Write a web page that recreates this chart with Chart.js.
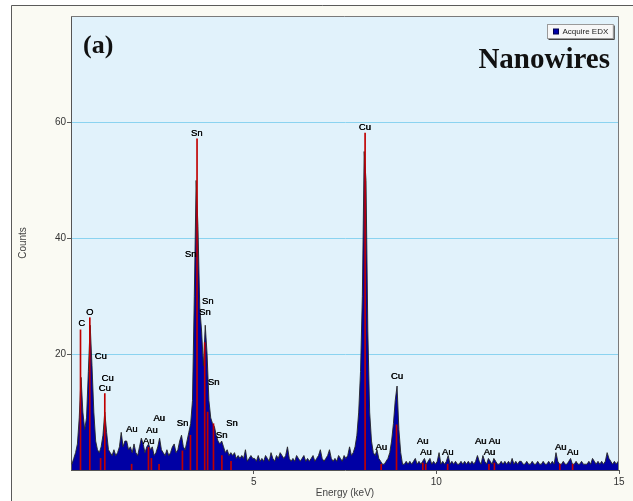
<!DOCTYPE html>
<html><head><meta charset="utf-8">
<script src="https://cdn.jsdelivr.net/npm/chart.js@4/dist/chart.umd.min.js"></script>
<style>html,body{margin:0;padding:0;background:#fff}canvas{display:block}</style>
</head><body>
<canvas id="c" width="633" height="501"></canvas>
<script>
// ---- data ----
const BIN_START = 0.025;   // keV, centre of first channel group
const BIN_WIDTH = 0.05;    // keV per channel group
const counts = [
  1, 2, 3, 4.5, 9, 16, 10, 7, 9, 17, 25, 18, 10, 5, 3.5, 3, 4, 6, 10, 6.5,
  3.5, 3, 2.5, 3.5, 2.5, 3, 4, 6.5, 4, 5,
  5, 3.5, 4, 3, 4.5, 3, 2.5, 4, 5.5, 4.5, 3, 4, 4.5, 3.5, 4, 2.5, 3, 4, 5.5, 3.5, 3, 2.5, 3.5, 2.5, 3, 4, 4.5, 3, 3.5, 5,
  6, 4, 3.5, 5, 6.5, 8, 12, 30, 50, 42, 28, 24, 18, 25, 20, 12, 9, 8, 7.5, 6, 5, 4.5, 5, 4, 3, 3.5, 2.5, 3, 2.5, 3, 2, 2.5, 2, 2.5, 2, 3.5, 1.5, 2, 2.5, 2,
  2, 1.5, 2.5, 1.5, 2, 1.5, 2.5, 2, 1.5, 3, 2, 1.5, 2.5, 2, 3, 2.5, 2, 2.5, 4, 2, 1.5, 2, 1.5, 2.5, 2, 1.5, 2, 2.5, 1.5, 2,
  1.5, 2, 2.5, 1.5, 2, 2.5, 3.5, 2, 1.5, 2, 2.5, 3.5, 2, 1.5, 2, 1.5, 2.5, 2, 1.5, 2.5, 2, 2.5,
  4, 2.5, 3, 4, 6, 10, 17, 30, 55, 50, 24, 10, 5, 3, 2.5, 3.5, 2, 1.5, 1, 1, 1.5, 2, 3, 5, 8, 12, 14.5, 7, 3, 1,
  1, 1.5, 1, 1.5, 1, 1.5, 2, 1, 1.5, 1,
  1.5, 2, 1, 1.5, 2, 1, 1.5, 1, 1.5, 3,
  1, 1.5, 1, 1.5, 2.5, 1, 1.5, 1, 1.5, 1,
  1, 1.5, 1, 1.5, 1, 1.5, 1, 1.5, 1, 1.5,
  2.5, 1.5, 1, 2.5, 1.5, 1, 2, 1.5, 1, 2,
  1.5, 1, 1, 1.5, 1, 1.5, 1, 1.5, 1, 2,
  1, 1.5, 1, 1.5, 1.5, 1, 1, 1.5, 1, 1,
  1.5, 1, 1, 1.5, 1, 1, 1.5, 1, 1, 1.5,
  1, 1.5, 1, 3, 1.5, 1, 1, 1.5, 1, 1,
  1.5, 2, 1, 1, 1.5, 1, 1, 1.5, 1, 1,
  1, 1.5, 1, 2, 1.5, 1, 1.5, 1, 1.5, 1,
  1.5, 3, 2, 1.5, 1, 1.5, 1, 1.5
];
const markerEnergy = [0.26, 0.515, 0.81, 0.925, 1.66, 2.12, 2.20, 2.41, 3.05, 3.27, 3.45, 3.66, 3.74, 3.90, 4.13, 4.38, 8.05, 8.49, 8.91, 9.63, 9.71, 10.31, 11.44, 11.59, 13.38, 13.73];
const markerHeight = [24.2, 26.3, 2, 13.2, 1, 3.9, 2, 1, 3.3, 6, 57.2, 22, 10, 8, 2.5, 1.5, 58.2, 1, 7.8, 1.2, 1, 1, 1, 1.2, 1, 1];
const labelText = ['C','O','Cu','Cu','Cu','Au','Au','Au','Au','Sn','Sn','Sn','Sn','Sn','Sn','Sn','Sn','Cu','Cu','Au','Au','Au','Au','Au','Au','Au','Au','Au'];
const labelEnergy = [0.29, 0.51, 0.81, 1.00, 0.92, 1.66, 2.41, 2.21, 2.12, 3.05, 3.44, 3.27, 3.74, 3.66, 3.90, 4.40, 4.12, 8.04, 8.92, 8.49, 9.62, 9.71, 10.31, 11.21, 11.59, 11.45, 13.40, 13.73];
const labelCount = [25.3, 27.2, 19.7, 15.9, 14.1, 7.0, 8.9, 6.8, 4.9, 8.0, 58.2, 37.2, 29.1, 27.2, 15.1, 8.0, 5.9, 59.2, 16.1, 3.9, 5.0, 3.0, 3.0, 5.0, 5.0, 3.0, 3.9, 3.0];
const xTickValues = [5, 10, 15];
const yTickValues = [20, 40, 60];
const seriesName = 'Acquire EDX';
const panelTag = '(a)';
const sampleName = 'Nanowires';
const xTitle = 'Energy (keV)';
const yTitle = 'Counts';

// ---- drawing ----
const SANS = '"Liberation Sans", Arial, sans-serif';
const SERIF = '"Liberation Serif", "Times New Roman", serif';

const decor = {
  id: 'decor',
  beforeDraw(chart) {
    const {ctx, chartArea: a, width, height} = chart;
    ctx.save();
    ctx.fillStyle = '#ffffff';
    ctx.fillRect(0, 0, width, height);
    ctx.fillStyle = '#fafaf3';
    ctx.fillRect(11, 5, width, height);
    ctx.strokeStyle = '#5a5a5a';
    ctx.lineWidth = 1;
    ctx.beginPath();
    ctx.moveTo(11.5, height + 2); ctx.lineTo(11.5, 5.5); ctx.lineTo(width + 2, 5.5);
    ctx.stroke();
    ctx.fillStyle = '#e1f2fb';
    ctx.fillRect(a.left, a.top, a.right - a.left, a.bottom - a.top);
    ctx.restore();
  },
  afterDatasetsDraw(chart) {
    const {ctx, scales: {x, y}} = chart;
    ctx.save();
    ctx.font = '9.5px ' + SANS;
    ctx.fillStyle = '#000';
    ctx.textAlign = 'center';
    ctx.textBaseline = 'middle';
    labelText.forEach((t, i) => {
      const px = x.getPixelForValue(labelEnergy[i]), py = y.getPixelForValue(labelCount[i]);
      ctx.fillText(t, px, py);
      ctx.fillText(t, px + 0.4, py);
    });
    ctx.restore();
  },
  afterDraw(chart) {
    const {ctx, chartArea: a} = chart;
    ctx.save();
    // top & right plot border
    ctx.strokeStyle = '#7a7a7a';
    ctx.lineWidth = 1;
    ctx.beginPath();
    ctx.moveTo(a.left, a.top + 0.5); ctx.lineTo(a.right - 0.5, a.top + 0.5); ctx.lineTo(a.right - 0.5, a.bottom);
    ctx.stroke();
    // legend
    ctx.font = '8px ' + SANS;
    const tw = ctx.measureText(seriesName).width;
    const bw = tw + 20, bh = 14;
    const bx = Math.round(a.right - 6 - bw) + 0.5, by = a.top + 8.5;
    ctx.fillStyle = '#f7f7f7';
    ctx.fillRect(bx, by, bw, bh);
    ctx.strokeStyle = '#9a9a9a';
    ctx.strokeRect(bx, by, bw, bh);
    ctx.strokeStyle = '#444';
    ctx.beginPath();
    ctx.moveTo(bx + 1, by + bh + 1); ctx.lineTo(bx + bw + 1, by + bh + 1); ctx.lineTo(bx + bw + 1, by + 1);
    ctx.stroke();
    ctx.fillStyle = '#0000a8';
    ctx.fillRect(bx + 6, by + 4.5, 5, 5);
    ctx.strokeStyle = '#000050';
    ctx.strokeRect(bx + 6, by + 4.5, 5, 5);
    ctx.fillStyle = '#222';
    ctx.textAlign = 'left';
    ctx.textBaseline = 'middle';
    ctx.fillText(seriesName, bx + 15, by + bh / 2 + 0.5);
    // panel texts
    ctx.fillStyle = '#111';
    ctx.font = 'bold 26px ' + SERIF;
    ctx.textBaseline = 'alphabetic';
    ctx.textAlign = 'left';
    ctx.fillText(panelTag, a.left + 12, a.top + 37);
    ctx.font = 'bold 29px ' + SERIF;
    ctx.textAlign = 'right';
    ctx.fillText(sampleName, a.right - 9, a.top + 52);
    ctx.restore();
  }
};

new Chart(document.getElementById('c').getContext('2d'), {
  type: 'line',
  data: {
    datasets: [
      {
        type: 'bar',
        label: 'markers',
        data: markerEnergy.map((e, i) => ({x: e, y: markerHeight[i]})),
        backgroundColor: '#c00000',
        barThickness: 1,
        order: 0
      },
      {
        type: 'line',
        label: seriesName,
        data: counts.map((c, i) => ({x: BIN_START + BIN_WIDTH * i, y: c})),
        fill: 'origin',
        backgroundColor: '#0000a4',
        borderColor: '#262626',
        borderWidth: 0.9,
        pointRadius: 0,
        tension: 0,
        order: 1
      }
    ]
  },
  options: {
    responsive: false,
    animation: false,
    events: [],
    layout: {padding: {left: 11, top: 16, right: 14, bottom: 0}},
    plugins: {legend: {display: false}, tooltip: {enabled: false}},
    scales: {
      x: {
        type: 'linear', min: 0, max: 15, offset: false,
        afterBuildTicks: s => { s.ticks = xTickValues.map(v => ({value: v})); },
        afterFit: s => { s.height = 31; },
        grid: {drawOnChartArea: false, offset: false, tickLength: 4, tickColor: '#555'},
        border: {color: '#555'},
        ticks: {color: '#333', font: {family: SANS, size: 10}, padding: 2, maxRotation: 0, autoSkip: false},
        title: {display: true, text: xTitle, color: '#444', font: {family: SANS, size: 10}, padding: {top: 0, bottom: 2}}
      },
      y: {
        type: 'linear', min: 0, max: 78.4,
        afterBuildTicks: s => { s.ticks = yTickValues.map(v => ({value: v})); },
        afterFit: s => { s.width = 60; },
        grid: {color: '#8ad3f0', tickLength: 4, tickColor: '#555'},
        border: {color: '#555'},
        ticks: {color: '#333', font: {family: SANS, size: 10}, padding: 1},
        title: {display: true, text: yTitle, color: '#444', font: {family: SANS, size: 10}, padding: {top: 6, bottom: 0}}
      }
    }
  },
  plugins: [decor]
});
</script>
</body></html>
